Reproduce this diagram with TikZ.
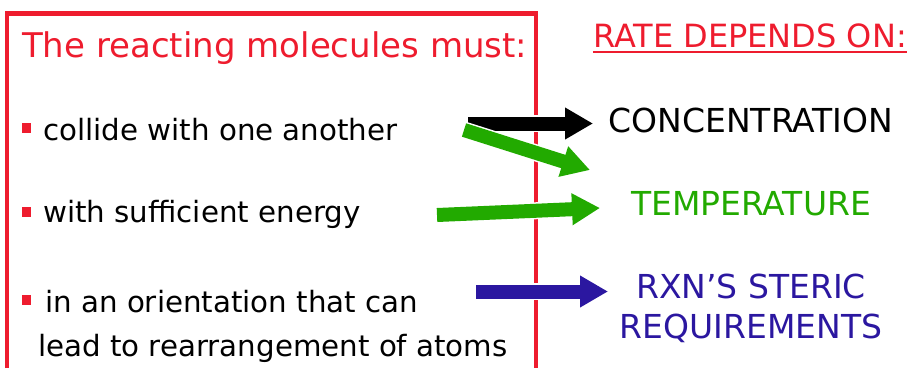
\documentclass[tikz,border=0pt]{standalone}
\usepackage{fontspec}
\setmainfont{DejaVu Sans}
\usetikzlibrary{arrows.meta,positioning}
\definecolor{boxred}{HTML}{EE1C2E}
\definecolor{tempgreen}{HTML}{22AA00}
\definecolor{stericblue}{HTML}{2B17A0}

\begin{document}
\begin{tikzpicture}[x=1pt, y=-1pt,
  item/.style={anchor=base west, inner sep=0pt, font=\fontsize{29.3}{34}\selectfont},
  factor/.style={anchor=base, inner sep=0pt, align=center, font=\fontsize{33}{40}\selectfont},
  blockarrow/.style={line width=14pt, -{Triangle[length=28pt,width=30pt]},
    preaction={draw=white, line width=17pt, -{Triangle[length=31pt,width=35pt]}}}]
\useasboundingbox (0,0) rectangle (910,368);
% open box round the conditions
\draw[boxred, line width=4.5pt] (7,368) -- (7,13.5) -- (536,13.5) -- (536,368);
\node[item, boxred, font=\fontsize{34}{40}\selectfont] (title) at (22,57) {The reacting molecules must:};
\foreach \y in {128,212,299.5} {
  \fill[boxred] (26.5,\y) +(-4.5,-5) rectangle +(4.5,5);
}
\node[item] (collide) at (43,140) {collide with one another};
\node[item] (energy) at (43,222) {with sufficient energy};
\node[item] (orient) at (45,312) {in an orientation that can};
\node[item] (atoms) at (38,356) {lead to rearrangement of atoms};

% what the rate depends on
\node[factor, boxred, font=\fontsize{32}{36}\selectfont] (rate) at (750,47) {RATE DEPENDS ON:};
\draw[boxred, line width=2pt] ([yshift=-5pt]rate.base west) -- ([yshift=-5pt]rate.base east);
\node[factor] (conc) at (751,132) {CONCENTRATION};
\node[factor, tempgreen] (temp) at (751,215) {TEMPERATURE};
\node[factor, stericblue] (steric) at (751,338) {RXN’S STERIC\\REQUIREMENTS};

\coordinate (conc tail) at (468,123.5);
\coordinate (conc tip) at (593,123.5);
\coordinate (temp tail) at (464,130);
\coordinate (temp tip) at (590,170);
\coordinate (energy tail) at (437,215);
\coordinate (energy tip) at (600,208);
\coordinate (steric tail) at (476,291.5);
\coordinate (steric tip) at (608,291.5);
\draw[blockarrow, black] (conc tail) -- (conc tip);
\draw[blockarrow, tempgreen] (temp tail) -- (temp tip);
\draw[blockarrow, tempgreen] (energy tail) -- (energy tip);
\draw[blockarrow, stericblue] (steric tail) -- (steric tip);
\end{tikzpicture}
\end{document}
